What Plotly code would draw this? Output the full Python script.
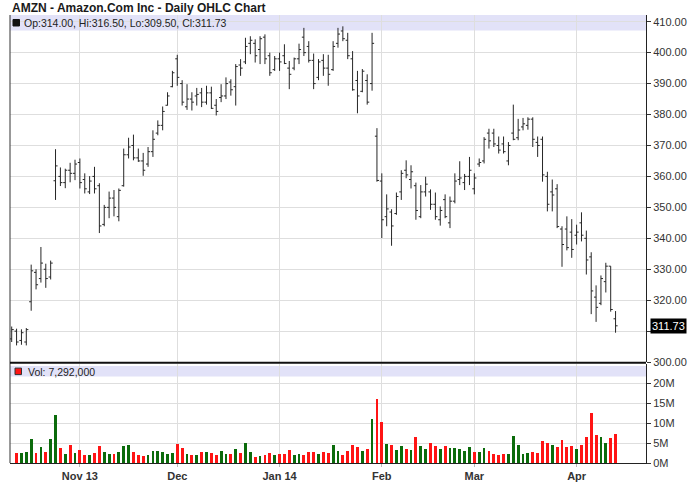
import plotly.graph_objects as go

# ---------------- data ----------------
dates = [
    "2013-10-14", "2013-10-15", "2013-10-16", "2013-10-17", "2013-10-18", "2013-10-21", "2013-10-22",
    "2013-10-23", "2013-10-24", "2013-10-25", "2013-10-28", "2013-10-29", "2013-10-30", "2013-10-31",
    "2013-11-01", "2013-11-04", "2013-11-05", "2013-11-06", "2013-11-07", "2013-11-08", "2013-11-11",
    "2013-11-12", "2013-11-13", "2013-11-14", "2013-11-15", "2013-11-18", "2013-11-19", "2013-11-20",
    "2013-11-21", "2013-11-22", "2013-11-25", "2013-11-26", "2013-11-27", "2013-11-29",
    "2013-12-02", "2013-12-03", "2013-12-04", "2013-12-05", "2013-12-06", "2013-12-09", "2013-12-10",
    "2013-12-11", "2013-12-12", "2013-12-13", "2013-12-16", "2013-12-17", "2013-12-18", "2013-12-19",
    "2013-12-20", "2013-12-23", "2013-12-24", "2013-12-26", "2013-12-27", "2013-12-30", "2013-12-31",
    "2014-01-02", "2014-01-03", "2014-01-06", "2014-01-07", "2014-01-08", "2014-01-09", "2014-01-10",
    "2014-01-13", "2014-01-14", "2014-01-15", "2014-01-16", "2014-01-17", "2014-01-21", "2014-01-22",
    "2014-01-23", "2014-01-24", "2014-01-27", "2014-01-28", "2014-01-29", "2014-01-30", "2014-01-31",
    "2014-02-03", "2014-02-04", "2014-02-05", "2014-02-06", "2014-02-07", "2014-02-10", "2014-02-11",
    "2014-02-12", "2014-02-13", "2014-02-14", "2014-02-18", "2014-02-19", "2014-02-20", "2014-02-21",
    "2014-02-24", "2014-02-25", "2014-02-26", "2014-02-27", "2014-02-28",
    "2014-03-03", "2014-03-04", "2014-03-05", "2014-03-06", "2014-03-07", "2014-03-10", "2014-03-11",
    "2014-03-12", "2014-03-13", "2014-03-14", "2014-03-17", "2014-03-18", "2014-03-19", "2014-03-20",
    "2014-03-21", "2014-03-24", "2014-03-25", "2014-03-26", "2014-03-27", "2014-03-28", "2014-03-31",
    "2014-04-01", "2014-04-02", "2014-04-03", "2014-04-04", "2014-04-07", "2014-04-08", "2014-04-09",
    "2014-04-10", "2014-04-11",
]

opens = [
    307.5, 310.0, 307.0, 306.5, 319.5, 329.0, 327.0, 330.0, 327.5, 358.6, 360.0, 358.0, 362.0, 361.0,
    364.5, 359.0, 355.0, 360.0, 357.0, 344.5, 350.0, 353.0, 347.0, 357.0, 367.0, 370.0, 366.0, 365.0,
    364.0, 368.0, 374.0, 376.5, 383.0, 389.0,
    398.0, 390.0, 382.5, 385.0, 386.0, 387.0, 384.0, 387.0, 383.0, 385.5, 386.0, 390.5, 389.0, 396.0,
    397.0, 403.0, 403.0, 401.0, 405.0, 399.0, 394.5,
    398.0, 399.0, 395.0, 395.0, 398.0, 405.0, 402.0, 397.5, 392.0, 397.5, 395.0, 394.5, 403.0, 407.0,
    404.0, 398.0, 391.0, 387.5, 391.0, 390.0, 373.0,
    358.5, 347.0, 348.5, 348.0, 355.0, 362.0, 359.0, 357.0, 347.0, 355.0, 355.0, 351.0, 346.0, 352.5,
    345.0, 352.0, 359.0, 358.0, 360.0,
    356.0, 364.0, 365.0, 374.0, 374.0, 370.0, 370.5, 365.0, 374.0, 372.5, 376.0, 376.5, 378.5, 371.0,
    372.0, 360.0, 355.0, 356.0, 343.0, 343.0, 342.0,
    341.0, 345.0, 340.0, 334.0, 321.0, 319.0, 326.0, 331.0, 314.0,
]
highs = [
    311.5, 310.8, 310.6, 311.0, 331.5, 330.0, 337.2, 331.8, 332.8, 368.8, 362.9, 362.5, 364.4, 365.4,
    365.8, 361.0, 360.1, 363.1, 357.8, 350.8, 355.1, 355.6, 356.1, 369.0, 372.5, 373.5, 369.0, 367.6,
    369.5, 374.9, 378.1, 382.6, 387.2, 394.1,
    399.3, 391.1, 389.8, 387.2, 388.6, 388.6, 389.3, 389.0, 385.0, 389.8, 392.0, 391.4, 396.3, 397.9,
    404.8, 405.3, 404.3, 405.3, 405.9, 400.0, 398.9,
    400.0, 402.7, 397.3, 398.4, 402.9, 408.0, 403.7, 399.7, 397.9, 399.5, 399.3, 403.7, 408.0, 408.5,
    406.4, 400.5, 394.1, 394.7, 393.0, 406.4, 375.6,
    361.0, 354.2, 349.4, 354.8, 362.0, 365.2, 363.6, 358.0, 357.2, 359.9, 355.8, 354.8, 350.3, 354.2,
    353.5, 361.0, 364.9, 360.8, 366.3,
    361.0, 365.8, 372.7, 375.4, 375.4, 372.9, 372.9, 371.1, 383.2, 378.6, 378.9, 379.1, 379.1, 372.9,
    372.9, 361.5, 359.0, 357.5, 343.9, 347.1, 346.2,
    344.4, 348.4, 342.5, 335.5, 324.8, 328.0, 332.1, 331.0, 316.5,
]
lows = [
    306.5, 305.4, 305.6, 305.4, 316.6, 323.5, 325.7, 324.0, 326.7, 352.4, 356.9, 356.2, 358.1, 358.8,
    356.1, 354.5, 354.3, 354.5, 341.7, 343.9, 346.5, 347.1, 345.5, 356.7, 365.8, 365.2, 364.7, 360.2,
    363.1, 366.3, 373.3, 374.9, 382.9, 388.8,
    389.3, 382.9, 381.5, 381.3, 382.9, 382.4, 383.2, 381.8, 379.7, 384.0, 385.0, 386.1, 382.9, 392.5,
    396.3, 399.5, 396.8, 396.3, 396.3, 392.5, 394.1,
    394.1, 396.3, 388.2, 394.3, 396.3, 398.9, 396.8, 388.2, 391.1, 392.5, 389.3, 394.1, 401.6, 403.7,
    397.9, 387.7, 380.4, 387.2, 383.2, 387.7, 358.3,
    340.1, 343.9, 337.6, 347.6, 352.4, 359.4, 356.1, 346.0, 346.5, 353.5, 349.2, 346.0, 344.1, 346.5,
    343.3, 351.3, 357.2, 355.6, 357.2,
    354.2, 363.1, 364.2, 369.0, 369.5, 367.4, 367.4, 363.6, 371.7, 371.7, 374.9, 375.1, 369.5, 366.3,
    358.3, 348.7, 348.7, 343.3, 330.8, 336.1, 333.7,
    338.0, 339.0, 328.3, 315.5, 313.0, 318.4, 322.5, 316.3, 309.5,
]
closes = [
    310.5, 306.5, 309.5, 310.5, 329.5, 325.0, 332.0, 327.0, 332.0, 363.4, 358.0, 362.0, 361.0, 364.0,
    358.0, 356.0, 358.5, 356.0, 344.0, 350.0, 353.0, 350.0, 355.5, 367.0, 369.5, 366.0, 365.0, 362.0,
    368.0, 372.0, 376.5, 381.0, 386.0, 393.5,
    392.0, 384.0, 385.0, 384.0, 386.5, 384.0, 387.0, 382.0, 381.0, 386.0, 390.0, 388.0, 395.5, 395.0,
    402.0, 404.0, 399.0, 404.5, 398.0, 393.5, 398.0,
    397.0, 396.5, 393.0, 398.0, 401.0, 400.0, 397.5, 390.0, 397.0, 395.0, 393.0, 402.0, 406.0, 404.5,
    399.0, 388.0, 386.0, 394.0, 384.0, 403.0, 358.7,
    346.0, 349.5, 344.0, 353.5, 361.0, 360.5, 361.5, 349.0, 355.0, 357.5, 351.0, 347.0, 349.0, 347.0,
    352.0, 358.5, 359.5, 360.0, 362.0,
    359.5, 364.5, 372.0, 371.5, 370.5, 368.5, 368.0, 370.0, 372.0, 375.0, 377.0, 378.5, 372.0, 370.0,
    360.5, 351.0, 354.0, 343.8, 338.0, 337.0, 336.4,
    342.0, 341.0, 333.0, 323.0, 317.7, 327.0, 331.0, 317.0, 311.73,
]
# volume in millions of shares (first session has no volume bar in the source chart)
volume_m = [
    None, 2.5, 2.5, 2.9, 6.1, 2.7, 4.2, 2.9, 6.1, 12.0, 3.8, 2.4, 4.6, 2.7,
    3.4, 2.2, 2.1, 2.5, 4.3, 2.9, 2.4, 2.4, 2.9, 4.3, 4.6, 2.9, 2.2, 1.9,
    2.2, 3.2, 3.2, 2.9, 2.4, 2.7,
    4.8, 3.8, 2.4, 2.2, 2.2, 2.9, 2.9, 2.7, 2.2, 3.2, 2.4, 2.4, 3.6, 2.7,
    5.1, 2.9, 1.7, 1.9, 2.2, 2.7, 2.2,
    2.4, 2.4, 3.4, 2.2, 2.4, 2.2, 2.9, 2.9, 2.4, 2.9, 2.7, 4.6, 3.2, 2.2,
    3.2, 4.6, 4.1, 3.2, 3.6, 11.0, 16.2,
    10.25, 4.9, 4.6, 3.4, 4.3, 3.6, 3.4, 6.6, 4.3, 3.6, 5.1, 4.3, 3.6, 4.3,
    3.8, 3.8, 3.6, 3.2, 4.1,
    2.9, 2.9, 3.8, 3.2, 2.4, 2.2, 2.4, 2.4, 6.8, 4.6, 2.4, 2.7, 2.9, 2.7,
    5.6, 5.1, 4.6, 4.1, 5.8, 4.1, 4.3,
    3.6, 4.6, 6.5, 12.5, 7.1, 6.5, 5.1, 6.3, 7.292,
]

month_dates = ["2013-11-01", "2013-12-02", "2014-01-02", "2014-02-03", "2014-03-03", "2014-04-01"]
month_labels = ["Nov 13", "Dec", "Jan 14", "Feb", "Mar", "Apr"]
price_ticks = [300, 310, 320, 330, 340, 350, 360, 370, 380, 390, 400, 410]
vol_ticks_m = [0, 5, 10, 15, 20]
vol_tick_labels = ["0M", "5M", "10M", "15M", "20M"]

ticker_title = "AMZN - Amazon.Com Inc - Daily OHLC Chart"

# ---------------- derived ----------------
xs = list(range(len(dates)))
month_pos = [dates.index(d) for d in month_dates]
volume = [None if v is None else v * 1e6 for v in volume_m]
GREEN = "#0b6b0b"
RED = "#ff1414"
vol_colors = ["#ffffff"] + [GREEN if closes[i] >= closes[i - 1] else RED for i in range(1, len(closes))]

FONT = "Liberation Sans, Arial, Helvetica, sans-serif"
W, H = 688, 503
ML, MR, MT, MB = 10, 42, 15, 39.5
PW = W - ML - MR
PH = H - MT - MB


def px_x(px):
    return (px - ML) / PW


def px_y(py):
    return (H - MB - py) / PH


fig = go.Figure()
fig.add_trace(go.Ohlc(
    x=xs, open=opens, high=highs, low=lows, close=closes,
    increasing=dict(line=dict(color="#262626", width=1)),
    decreasing=dict(line=dict(color="#262626", width=1)),
    tickwidth=0.42, xaxis="x", yaxis="y", showlegend=False, hoverinfo="skip",
))
fig.add_trace(go.Bar(
    x=xs, y=volume, marker=dict(color=vol_colors, line=dict(width=0)), width=0.58,
    xaxis="x2", yaxis="y2", showlegend=False, hoverinfo="skip",
))

grid = "#dedede"
xr = [-0.35, 130.25]
price_top = 412.16
vol_top = 24.9e6

price_ticktext = ["" if abs(v - closes[-1]) < 5 else f"{v:.2f}" for v in price_ticks]

fig.update_layout(
    width=W, height=H,
    margin=dict(l=ML, r=MR, t=MT, b=MB, pad=0, autoexpand=False),
    paper_bgcolor="white", plot_bgcolor="white",
    font=dict(family=FONT, size=11, color="#333333"),
    bargap=0,
    xaxis=dict(domain=[0, 1], anchor="y", range=xr, tickvals=month_pos, showticklabels=False,
               showgrid=True, gridcolor=grid, gridwidth=1, zeroline=False, ticks="",
               rangeslider=dict(visible=False), showline=False, fixedrange=True, automargin=False),
    yaxis=dict(domain=[(H - MB - 362.5) / PH, 1], anchor="x", side="right", range=[300, price_top],
               tickvals=price_ticks, ticktext=price_ticktext, ticks="outside", ticklen=4,
               tickcolor="#333333", showgrid=True, gridcolor=grid, gridwidth=1, zeroline=False,
               showline=True, linecolor="#222222", linewidth=1, automargin=False,
               tickfont=dict(size=11, color="#333333", family=FONT)),
    xaxis2=dict(domain=[0, 1], anchor="y2", matches="x", range=xr, tickvals=month_pos,
                ticktext=month_labels, showgrid=True, gridcolor=grid, gridwidth=1, zeroline=False,
                ticks="outside", ticklen=3, tickcolor="#bbbbbb", showline=True, linecolor="#222222",
                linewidth=1, automargin=False, rangeslider=dict(visible=False),
                tickfont=dict(size=11, color="#333333", family=FONT, weight="bold")),
    yaxis2=dict(domain=[0, (H - MB - 364) / PH], anchor="x2", side="right", range=[0, vol_top],
                tickvals=[v * 1e6 for v in vol_ticks_m], ticktext=vol_tick_labels, ticks="outside",
                ticklen=4, tickcolor="#333333", showgrid=True, gridcolor=grid, gridwidth=1,
                zeroline=False, showline=True, linecolor="#222222", linewidth=1, automargin=False,
                tickfont=dict(size=11, color="#333333", family=FONT)),
)

band = "#e2e2f8"
shapes = [
    # header bands
    dict(type="rect", xref="paper", yref="paper", x0=0, x1=1, y0=px_y(30.5), y1=px_y(15),
         fillcolor=band, line=dict(width=0), layer="below"),
    dict(type="rect", xref="paper", yref="paper", x0=0, x1=1, y0=px_y(377), y1=px_y(366.5),
         fillcolor=band, line=dict(width=0), layer="below"),
    # left border
    dict(type="line", xref="paper", yref="paper", x0=0, x1=0, y0=0, y1=1,
         line=dict(color="#333333", width=1)),
    # panel separator
    dict(type="line", xref="paper", yref="paper", x0=0, x1=1, y0=px_y(363.2), y1=px_y(363.2),
         line=dict(color="#111111", width=2)),
    # legend squares
    dict(type="rect", xref="paper", yref="paper", x0=px_x(13), x1=px_x(19.5), y0=px_y(26), y1=px_y(19.5),
         fillcolor="#111111", line=dict(color="#111111", width=1)),
    dict(type="rect", xref="paper", yref="paper", x0=px_x(15), x1=px_x(21.5), y0=px_y(375), y1=px_y(368.5),
         fillcolor=RED, line=dict(color="#333333", width=1)),
]
fig.update_layout(shapes=shapes)

ohlc_text = f"Op:{opens[-1]:.2f}, Hi:{highs[-1]:.2f}, Lo:{lows[-1]:.2f}, Cl:{closes[-1]:.2f}"
vol_text = f"Vol: {volume[-1]:,.0f}"

annotations = [
    dict(text=ticker_title, xref="paper", yref="paper", x=px_x(10), y=px_y(8), xanchor="left",
         yanchor="middle", showarrow=False, font=dict(family=FONT, size=12, color="#1a1a1a", weight="bold")),
    dict(text=ohlc_text, xref="paper", yref="paper", x=px_x(22), y=px_y(23), xanchor="left",
         yanchor="middle", showarrow=False, font=dict(family=FONT, size=10.5, color="#222222")),
    dict(text=vol_text, xref="paper", yref="paper", x=px_x(26), y=px_y(372), xanchor="left",
         yanchor="middle", showarrow=False, font=dict(family=FONT, size=10.5, color="#222222")),
    dict(text=f"{closes[-1]:.2f}", xref="paper", yref="y", x=px_x(650), y=closes[-1], xanchor="left",
         yanchor="middle", showarrow=False, bgcolor="#000000", borderpad=1,
         font=dict(family=FONT, size=11, color="#ffffff")),
]
fig.update_layout(annotations=annotations)

fig.write_html(
    "out.html",
    config={"displayModeBar": False},
    post_script="document.body.style.margin='0px';document.body.style.overflow='hidden';",
)
